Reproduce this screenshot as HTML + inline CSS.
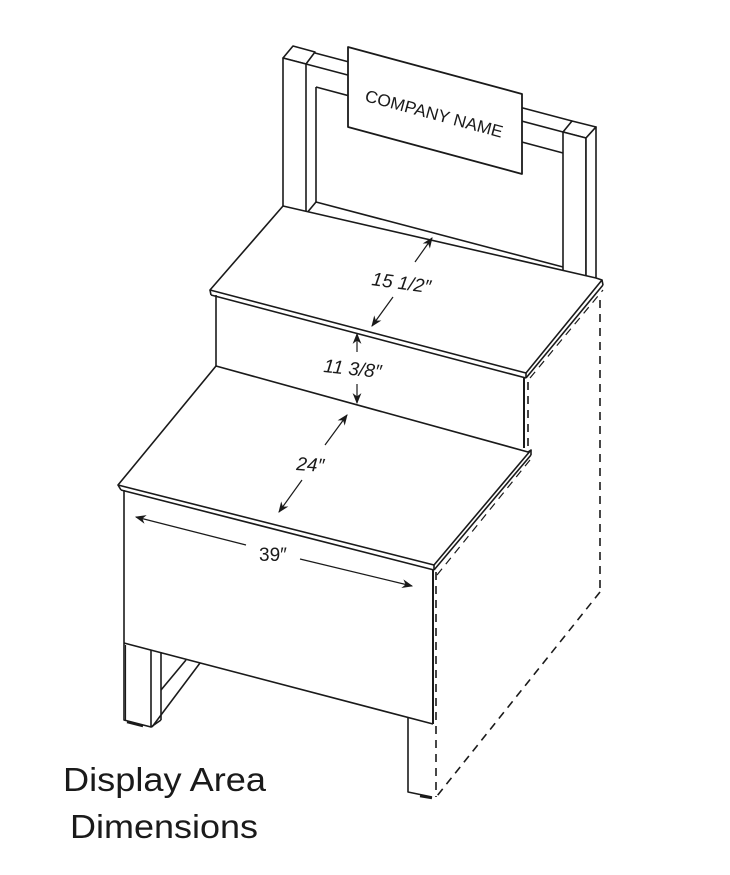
<!DOCTYPE html>
<html><head><meta charset="utf-8"><style>
html,body{margin:0;padding:0;background:#fff;}
svg{display:block;}
</style></head><body>
<svg width="730" height="875" viewBox="0 0 730 875" xmlns="http://www.w3.org/2000/svg">
<g fill="none" stroke="#1a1a1a" stroke-width="1.6" stroke-linejoin="round">
<line x1="316" y1="202" x2="563" y2="267"/>
<line x1="315" y1="53" x2="572" y2="121"/>
<line x1="306" y1="64" x2="563" y2="132"/>
<line x1="316" y1="87" x2="563" y2="153"/>
<polygon points="283,58 293,46 315,52 306,64" fill="#fff"/>
<polygon points="283,58 306,64 306,214 283,208" fill="#fff"/>
<line x1="316" y1="87" x2="316" y2="202"/>
<line x1="306" y1="214" x2="316" y2="202"/>
<polygon points="563,132 572,121 596,127 586,138" fill="#fff"/>
<polygon points="563,132 586,138 586,288 563,282" fill="#fff"/>
<polygon points="586,138 596,127 596,277 586,288" fill="#fff"/>
<polygon points="348,47 522,94 522,174 348,127" fill="#fff" stroke-width="1.8"/>
<polygon points="283,206 210,290 526,373 602,280 596,278" fill="#fff"/>
<line x1="210" y1="290" x2="211" y2="295"/>
<line x1="211" y1="295" x2="526" y2="378"/>
<line x1="526" y1="373" x2="526" y2="378"/>
<line x1="526" y1="378" x2="603" y2="285"/>
<line x1="602" y1="280" x2="603" y2="285"/>
<line x1="216" y1="295" x2="216" y2="366"/>
<line x1="524" y1="378" x2="524" y2="448" stroke-width="2"/>
<polygon points="216,366 118,485 434,565 531,450 528,452" fill="#fff"/>
<line x1="118" y1="485" x2="121" y2="490"/>
<line x1="121" y1="490" x2="434" y2="570"/>
<line x1="434" y1="565" x2="434" y2="570"/>
<line x1="434" y1="570" x2="531" y2="455"/>
<line x1="531" y1="450" x2="531" y2="455"/>
<line x1="124" y1="490" x2="124" y2="643"/>
<line x1="433" y1="570" x2="433" y2="724" stroke-width="2"/>
<line x1="124" y1="643" x2="433" y2="724"/>
<polyline points="124,643 124,720 151,727 151,650"/>
<line x1="125.5" y1="645" x2="125.5" y2="720" stroke-width="1.2"/>
<line x1="161" y1="652" x2="161" y2="720"/>
<line x1="151" y1="727" x2="161" y2="720"/>
<line x1="161" y1="690" x2="186" y2="660"/>
<line x1="152" y1="727" x2="200" y2="663"/>
<line x1="143" y1="726" x2="127" y2="722" stroke-width="2.5"/>
<polyline points="408,718 408,792 432,797"/>
<line x1="420" y1="796" x2="432" y2="798" stroke-width="2.5"/>
</g>
<g fill="none" stroke="#1a1a1a" stroke-width="1.6" stroke-dasharray="8,6">
<line x1="600" y1="300" x2="600" y2="592"/>
<line x1="600" y1="592" x2="437" y2="796"/>
<line x1="436" y1="572" x2="436" y2="797"/>
<line x1="530" y1="378" x2="603" y2="290" stroke-width="1.2"/>
<line x1="528" y1="382" x2="528" y2="448"/>
<line x1="437" y1="575" x2="530" y2="460" stroke-width="1.2"/>
</g>
<defs>
<marker id="a" viewBox="0 0 10 10" refX="9" refY="5" markerWidth="11" markerHeight="11" orient="auto-start-reverse" markerUnits="userSpaceOnUse">
<path d="M0,1 L10,5 L0,9 L3,5 Z" fill="#1a1a1a"/></marker>
</defs>
<g stroke="#1a1a1a" stroke-width="1.2" fill="none">
<line x1="415" y1="262" x2="432" y2="238" marker-end="url(#a)"/>
<line x1="393" y1="297" x2="372" y2="326" marker-end="url(#a)"/>
<line x1="357" y1="352" x2="357" y2="334" marker-end="url(#a)"/>
<line x1="357" y1="384" x2="357" y2="403" marker-end="url(#a)"/>
<line x1="325" y1="445" x2="347" y2="415" marker-end="url(#a)"/>
<line x1="302" y1="480" x2="279" y2="512" marker-end="url(#a)"/>
<line x1="246" y1="545" x2="136" y2="517" marker-end="url(#a)"/>
<line x1="300" y1="559" x2="412" y2="586" marker-end="url(#a)"/>
</g>
<g font-family="Liberation Sans, sans-serif" fill="#1a1a1a" font-style="italic">
<text x="0" y="0" font-size="19" transform="translate(371,285) rotate(8)">15 1/2″</text>
<text x="0" y="0" font-size="19" transform="translate(323,372) rotate(6)">11 3/8″</text>
<text x="0" y="0" font-size="19" transform="translate(296,470) rotate(4)">24″</text>
<text x="0" y="0" font-size="19" font-style="normal" transform="translate(259,561)">39″</text>
</g>
<text x="0" y="0" font-family="Liberation Sans, sans-serif" font-size="17" fill="#1a1a1a" transform="translate(364,101) rotate(15)" textLength="142" lengthAdjust="spacingAndGlyphs">COMPANY NAME</text>
<g font-family="Liberation Sans, sans-serif" font-size="33" fill="#1a1a1a">
<text x="63" y="791" textLength="203" lengthAdjust="spacingAndGlyphs">Display Area</text>
<text x="70" y="838" textLength="188" lengthAdjust="spacingAndGlyphs">Dimensions</text>
</g>
</svg>
</body></html>
